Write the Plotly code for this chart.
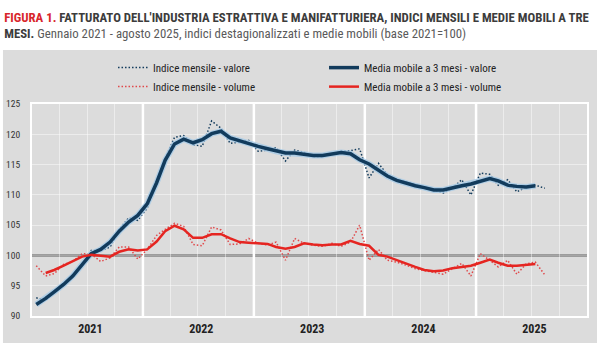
import plotly.graph_objects as go

# ---- data ----
mesi = [f"{2021 + i // 12}-{i % 12 + 1:02d}-15" for i in range(56)]  # gen 2021 - ago 2025
anni = ["2021", "2022", "2023", "2024", "2025"]

valore_mensile = [93.0, 92.6, 94.0, 95.0, 96.6, 98.4, 100.8, 100.8, 101.4, 104.3, 106.2, 105.8,
                  107.8, 112.0, 116.0, 119.5, 119.8, 118.3, 118.0, 122.2, 121.0, 118.5, 118.8, 119.0,
                  117.2, 117.4, 117.8, 115.6, 117.4, 117.0, 116.3, 116.3, 116.8, 117.2, 117.3, 117.6,
                  112.8, 115.2, 113.3, 112.5, 112.2, 111.6, 111.1, 110.8, 110.3, 111.1, 112.5, 110.0,
                  113.6, 113.4, 111.6, 112.5, 110.5, 111.3, 111.6, 111.1]
valore_media = [91.9, 92.9, 94.0, 95.2, 96.6, 98.5, 100.3, 101.0, 102.2, 104.0, 105.5, 106.6,
                108.5, 112.0, 115.7, 118.4, 119.2, 118.6, 119.1, 120.1, 120.5, 119.4, 118.9, 118.5,
                118.0, 117.6, 117.2, 116.9, 116.9, 116.7, 116.5, 116.5, 116.8, 117.0, 116.8, 115.8,
                115.1, 114.0, 113.1, 112.4, 111.9, 111.5, 111.2, 110.8, 110.8, 111.2, 111.5, 111.8,
                112.3, 112.7, 112.3, 111.6, 111.4, 111.3, 111.5, None]
volume_mensile = [98.3, 96.6, 97.0, 98.5, 99.0, 100.3, 100.2, 99.0, 99.6, 101.4, 101.4, 99.4,
                  101.0, 103.3, 104.3, 105.3, 104.8, 101.8, 101.6, 104.7, 104.2, 101.8, 101.9, 102.8,
                  102.0, 101.7, 102.2, 99.2, 102.8, 102.0, 101.7, 101.5, 102.0, 101.5, 102.2, 105.0,
                  99.2, 101.0, 99.2, 98.9, 98.4, 97.8, 97.5, 97.2, 96.9, 97.8, 98.7, 96.6,
                  100.3, 99.2, 98.1, 99.2, 96.9, 98.6, 98.9, 96.8]
volume_media = [None, 97.1, 97.6, 98.3, 99.1, 99.8, 100.1, 99.9, 99.8, 100.6, 101.0, 100.8,
                101.0, 102.3, 104.0, 104.9, 104.3, 102.9, 102.9, 103.5, 103.5, 102.8, 102.2, 102.1,
                102.0, 101.9, 101.4, 101.1, 101.4, 102.0, 101.8, 101.7, 101.8, 101.8, 102.4, 101.9,
                101.6, 100.1, 99.8, 99.2, 98.7, 98.1, 97.6, 97.4, 97.5, 97.9, 98.1, 98.3,
                98.8, 99.3, 98.8, 98.3, 98.3, 98.5, 98.6, None]

NAVY = "#123b5c"
HALO = "#a6cbe8"
RED = "#e52521"
RED_DOT = "#e0484a"
BG = "#dcdcdc"
FONT = "Liberation Sans Narrow, Arial Narrow, Roboto Condensed, Liberation Sans, sans-serif"
DOT = "1.5px,2px"

fig = go.Figure()
fig.add_trace(go.Scatter(x=mesi, y=valore_mensile, mode="lines", name="Indice mensile - valore",
                         line=dict(color=NAVY, width=1.5, dash=DOT), legendrank=1))
fig.add_trace(go.Scatter(x=mesi, y=volume_mensile, mode="lines", name="Indice mensile - volume",
                         line=dict(color=RED_DOT, width=1.5, dash=DOT), legendrank=3))
fig.add_trace(go.Scatter(x=mesi, y=valore_media, mode="lines", showlegend=False, hoverinfo="skip",
                         line=dict(color=HALO, width=6), opacity=0.8))
fig.add_trace(go.Scatter(x=mesi, y=valore_media, mode="lines", name="Media mobile a 3 mesi - valore",
                         line=dict(color=NAVY, width=3.5), legendrank=2))
fig.add_trace(go.Scatter(x=mesi, y=volume_media, mode="lines", name="Media mobile a 3 mesi - volume",
                         line=dict(color=RED, width=2.5), legendrank=4))

shapes = [
    # grey panel behind legend + chart
    dict(type="rect", xref="paper", yref="paper", x0=-0.0523, x1=1.018, y0=-0.127, y1=1.255,
         fillcolor=BG, line_width=0, layer="below"),
    # base line 100
    dict(type="line", xref="paper", yref="y", x0=0, x1=1, y0=100, y1=100,
         line=dict(color="#5c5c5c", width=2), layer="below"),
]
for a in anni[1:]:
    shapes.append(dict(type="line", xref="x", yref="paper", x0=f"{a}-01-01", x1=f"{a}-01-01",
                       y0=0, y1=1, line=dict(color="white", width=2.5), layer="below"))

title_text = ("<span style='color:#d8262b'><b>FIGURA 1.</b></span> "
              "<b>FATTURATO DELL'INDUSTRIA ESTRATTIVA E MANIFATTURIERA, INDICI MENSILI E MEDIE MOBILI A TRE</b><br>"
              "<b>MESI.</b> <span style='color:#5a5a5a'>Gennaio 2021 - agosto 2025, indici destagionalizzati "
              "e medie mobili (base 2021=100)</span>")

fig.update_layout(
    width=600, height=360,
    margin=dict(l=32, r=13, t=104, b=44, autoexpand=False),
    paper_bgcolor="white",
    plot_bgcolor=BG,
    font=dict(family=FONT, color="#222222", size=11),
    title=dict(text=title_text, x=0.007, xanchor="left", xref="container",
               y=0.94, yanchor="top", yref="container",
               font=dict(family=FONT, size=12.8, color="#3c3c3c")),
    showlegend=True,
    legend=dict(orientation="h", x=0.146, xanchor="left", y=1.24, yanchor="top",
                entrywidth=166, entrywidthmode="pixels", traceorder="normal",
                bgcolor="rgba(0,0,0,0)", font=dict(family=FONT, size=11, color="#222222"),
                itemclick=False, itemdoubleclick=False),
    shapes=shapes,
    hovermode=False,
)

fig.update_xaxes(
    type="date",
    range=["2021-01-01", "2026-01-01"],
    tickvals=[f"{a}-07-12" for a in anni],
    ticktext=anni,
    ticks="",
    showgrid=False,
    zeroline=False,
    showline=True, linecolor="white", linewidth=2, mirror=True,
    tickfont=dict(family=FONT, size=12, color="#222222", weight="bold"),
    ticklabelstandoff=1,
    minor=dict(dtick="M3", tick0="2021-01-01", showgrid=True,
               gridcolor="rgba(255,255,255,0.45)", gridwidth=1, ticks=""),
)
fig.update_yaxes(
    range=[90, 125],
    dtick=5, tick0=90,
    ticks="",
    showgrid=True, gridcolor="rgba(255,255,255,0.45)", gridwidth=1,
    zeroline=False,
    showline=True, linecolor="white", linewidth=2, mirror=True,
    tickfont=dict(family=FONT, size=9.5, color="#333333"),
    ticklabelstandoff=8,
)

fig.write_html("out.html", config={"displayModeBar": False},
               post_script="document.body.style.margin='0';")
